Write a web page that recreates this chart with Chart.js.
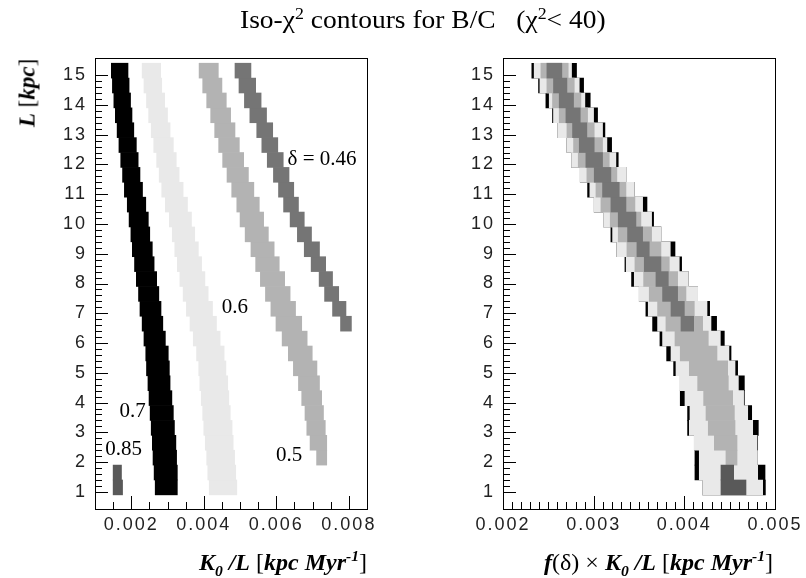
<!DOCTYPE html>
<html>
<head>
<meta charset="utf-8">
<script src="https://cdn.jsdelivr.net/npm/chart.js@4.4.1/dist/chart.umd.min.js"></script>
<style>
  html, body { margin: 0; padding: 0; background: #fff; }
  #page { position: relative; width: 806px; height: 578px; overflow: hidden;
          font-family: "Liberation Serif", "Times New Roman", serif; color: #000; }
  canvas { position: absolute; top: 0; }
  #leftChart { left: 0; }
  #rightChart { left: 400px; }
  .txt { position: absolute; white-space: nowrap; line-height: 1; }
  .txt sub, .txt sup { font-size: 65%; line-height: 0; }
  #title { left: 240px; top: 7px; font-size: 25px; transform: scaleX(1.1); transform-origin: left top; }
  #ytitle { left: 27px; top: 93px; font-size: 23px; transform: translate(-50%, -50%) rotate(-90deg); }
  #xtitleLeft { right: 439px; top: 550px; font-size: 24px; }
  #xtitleRight { right: 33px; top: 550px; font-size: 24px; }
</style>
</head>
<body>
<div id="page">
  <canvas id="leftChart" width="400" height="578"></canvas>
  <canvas id="rightChart" width="406" height="578"></canvas>
  <div class="txt" id="title">Iso-χ<sup>2</sup> contours for B/C&nbsp;&nbsp;&nbsp;(χ<sup>2</sup>&lt; 40)</div>
  <div class="txt" id="ytitle"><b><i>L</i></b> [<b><i>kpc</i></b>]</div>
  <div class="txt" id="xtitleLeft"><b><i>K<sub>0</sub> /L</i></b> [<b><i>kpc Myr<sup>-1</sup></i></b>]</div>
  <div class="txt" id="xtitleRight"><b><i>f</i></b>(δ) × <b><i>K<sub>0</sub> /L</i></b> [<b><i>kpc Myr<sup>-1</sup></i></b>]</div>
</div>
<script>
// L bins (kpc), each bin is 0.5 kpc tall; values below are K0/L in units of 1e-3 kpc/Myr
const yCenters = [1.15, 1.65, 2.15, 2.65, 3.15, 3.65, 4.15, 4.65, 5.15, 5.65, 6.15, 6.65, 7.15, 7.65,
  8.15, 8.65, 9.15, 9.65, 10.15, 10.65, 11.15, 11.65, 12.15, 12.65, 13.15, 13.65, 14.15, 14.65, 15.15];

const deltas = ["0.7", "0.6", "0.5", "0.46", "0.85"];
const bandColors = ["#000000", "#e9e9e9", "#b3b3b3", "#757575", "#595959"];

// left panel: K0/L
const leftBlackLo = [2.66, 2.63, 2.60, 2.58, 2.55, 2.52, 2.49, 2.46, 2.42, 2.40, 2.35, 2.30, 2.24, 2.20, 2.14, 2.09, 2.03, 1.99, 1.94, 1.89, 1.81, 1.76, 1.71, 1.66, 1.61, 1.56, 1.52, 1.48, 1.45];
const leftBlackHi = [3.27, 3.27, 3.25, 3.23, 3.19, 3.16, 3.12, 3.07, 3.05, 3.02, 2.94, 2.87, 2.82, 2.76, 2.70, 2.63, 2.58, 2.51, 2.47, 2.40, 2.31, 2.24, 2.19, 2.14, 2.07, 2.02, 1.98, 1.94, 1.91];
const leftLightLo = [4.15, 4.11, 4.08, 4.04, 4.00, 3.97, 3.93, 3.89, 3.86, 3.80, 3.71, 3.62, 3.52, 3.43, 3.34, 3.27, 3.20, 3.13, 3.05, 2.94, 2.84, 2.77, 2.70, 2.62, 2.55, 2.48, 2.42, 2.35, 2.30];
const leftLightHi = [4.91, 4.88, 4.85, 4.81, 4.78, 4.73, 4.69, 4.66, 4.61, 4.56, 4.45, 4.35, 4.24, 4.12, 4.03, 3.94, 3.85, 3.75, 3.66, 3.55, 3.43, 3.32, 3.24, 3.16, 3.07, 3.00, 2.92, 2.84, 2.81];
const leftGreyLo = [null, null, 7.11, 6.93, 6.84, 6.79, 6.70, 6.61, 6.47, 6.33, 6.16, 5.99, 5.85, 5.70, 5.56, 5.43, 5.30, 5.14, 5.00, 4.91, 4.77, 4.64, 4.52, 4.41, 4.30, 4.19, 4.08, 3.97, 3.87];
const leftGreyHi = [null, null, 7.39, 7.39, 7.35, 7.30, 7.25, 7.19, 7.12, 6.99, 6.85, 6.70, 6.53, 6.38, 6.23, 6.08, 5.94, 5.78, 5.65, 5.53, 5.38, 5.23, 5.10, 4.98, 4.86, 4.74, 4.62, 4.50, 4.40];
const leftDarkLo = [null, null, null, null, null, null, null, null, null, null, null, 7.77, 7.55, 7.33, 7.18, 6.96, 6.77, 6.58, 6.38, 6.20, 6.06, 5.92, 5.75, 5.60, 5.46, 5.27, 5.12, 4.97, 4.86];
const leftDarkHi = [null, null, null, null, null, null, null, null, null, null, null, 8.07, 7.92, 7.72, 7.55, 7.36, 7.19, 6.97, 6.77, 6.61, 6.48, 6.35, 6.19, 6.04, 5.90, 5.73, 5.58, 5.43, 5.30];
const left85Lo = [1.50, 1.50];
const left85Hi = [1.76, 1.73];

// right panel: f(delta) x K0/L
const rightBlackLo = [4.202, 4.117, 4.117, 4.110, 4.036, 4.036, 3.955, 3.955, 3.882, 3.805, 3.731, 3.650, 3.576, 3.503, 3.418, 3.345, 3.256, 3.190, 3.109, 3.006, 2.933, 2.852, 2.756, 2.705, 2.602, 2.546, 2.473, 2.392, 2.318];
const rightBlackHi = [4.894, 4.890, 4.802, 4.809, 4.816, 4.743, 4.662, 4.662, 4.588, 4.515, 4.441, 4.356, 4.279, 4.147, 4.044, 3.970, 3.897, 3.742, 3.661, 3.588, 3.448, 3.356, 3.271, 3.198, 3.124, 3.043, 2.962, 2.889, 2.811];
const rightLightLo = [4.202, 4.165, 4.165, 4.110, 4.055, 4.062, 4.007, 3.955, 3.908, 3.853, 3.760, 3.705, 3.602, 3.503, 3.448, 3.359, 3.256, 3.209, 3.109, 3.006, 2.958, 2.852, 2.756, 2.705, 2.602, 2.557, 2.510, 2.407, 2.344];
const rightLightHi = [4.864, 4.809, 4.802, 4.802, 4.754, 4.699, 4.654, 4.596, 4.559, 4.492, 4.397, 4.294, 4.250, 4.147, 4.044, 3.944, 3.845, 3.742, 3.639, 3.540, 3.448, 3.356, 3.245, 3.146, 3.098, 2.999, 2.903, 2.841, 2.756];
const rightGreyLo = [null, null, 4.459, 4.331, 4.264, 4.239, 4.213, 4.147, 4.055, 3.955, 3.897, 3.797, 3.705, 3.613, 3.551, 3.455, 3.367, 3.271, 3.183, 3.080, 3.025, 2.925, 2.830, 2.778, 2.705, 2.620, 2.546, 2.484, 2.418];
const rightGreyHi = [null, null, 4.581, 4.581, 4.559, 4.552, 4.533, 4.485, 4.478, 4.360, 4.264, 4.202, 4.110, 4.018, 3.926, 3.834, 3.742, 3.639, 3.521, 3.455, 3.356, 3.256, 3.172, 3.098, 3.006, 2.933, 2.859, 2.786, 2.719];
const rightDarkLo = [null, null, null, null, null, null, null, null, null, null, null, 3.963, 3.853, 3.760, 3.687, 3.558, 3.477, 3.374, 3.271, 3.190, 3.098, 3.006, 2.914, 2.841, 2.767, 2.694, 2.620, 2.557, 2.484];
const rightDarkHi = [null, null, null, null, null, null, null, null, null, null, null, 4.103, 4.000, 3.926, 3.823, 3.742, 3.613, 3.540, 3.466, 3.356, 3.282, 3.190, 3.098, 3.006, 2.925, 2.852, 2.778, 2.705, 2.649];
const right85Lo = [4.404, 4.404];
const right85Hi = [4.680, 4.544];

// axes
const yTicks = [1, 2, 3, 4, 5, 6, 7, 8, 9, 10, 11, 12, 13, 14, 15];
const leftXTicks = [0.002, 0.004, 0.006, 0.008];
const rightXTicks = [0.002, 0.003, 0.004, 0.005];

// curve labels in the left panel
const labelTexts = ["δ = 0.46", "0.6", "0.7", "0.85", "0.5"];
const labelX = [7.26, 4.86, 2.04, 1.79, 6.35];
const labelY = [12.16, 7.18, 3.70, 2.41, 2.22];

function cells(lo, hi) {
  const out = [];
  yCenters.forEach((y, i) => {
    if (lo[i] == null) return;
    out.push({ y: y, x: [lo[i] * 1e-3, hi[i] * 1e-3] });
  });
  return out;
}

function bandDatasets(bands) {
  return bands.map((b, k) => ({
    label: "δ = " + deltas[k],
    data: cells(b[0], b[1]),
    backgroundColor: bandColors[k],
    borderWidth: 0,
    barPercentage: 1,
    categoryPercentage: 1,
    grouped: false,
    clip: 0,
    order: bands.length - k, // 0.7 at the bottom, 0.85 on top
  }));
}

// inward ROOT-like ticks plus the box round the plot
const axisFramePlugin = {
  id: "axisFrame",
  beforeDraw(chart) {
    chart.ctx.letterSpacing = "2px";
  },
  afterDatasetsDraw(chart, args, opts) {
    const { ctx, chartArea: { left, right, top, bottom }, scales: { x, y } } = chart;
    const px = (v) => Math.round(v) + 0.5;
    ctx.save();
    ctx.strokeStyle = "#000";
    ctx.lineWidth = 1;
    ctx.beginPath();
    const yStart = Math.ceil(y.min / opts.yMinor - 1e-6);
    for (let i = yStart; i * opts.yMinor <= y.max + 1e-9; i++) {
      const v = i * opts.yMinor;
      const major = Math.abs(v / opts.yMajor - Math.round(v / opts.yMajor)) < 1e-6;
      const p = px(y.getPixelForValue(v));
      ctx.moveTo(left, p);
      ctx.lineTo(left + (major ? 13 : 7), p);
    }
    const xStart = Math.ceil(x.min / opts.xMinor - 1e-6);
    for (let i = xStart; i * opts.xMinor <= x.max + 1e-12; i++) {
      const v = i * opts.xMinor;
      const major = Math.abs(v / opts.xMajor - Math.round(v / opts.xMajor)) < 1e-6;
      const p = px(x.getPixelForValue(v));
      ctx.moveTo(p, bottom);
      ctx.lineTo(p, bottom - (major ? 13 : 7));
    }
    ctx.stroke();
    ctx.strokeRect(px(left), px(top), Math.round(right - left), Math.round(bottom - top));
    ctx.restore();
  },
};

const curveLabelsPlugin = {
  id: "curveLabels",
  afterDatasetsDraw(chart, args, opts) {
    if (!opts.show) return;
    const { ctx, scales: { x, y } } = chart;
    ctx.save();
    ctx.letterSpacing = "0px";
    ctx.fillStyle = "#000";
    ctx.font = '21px "Liberation Serif"';
    ctx.textAlign = "center";
    ctx.textBaseline = "middle";
    labelTexts.forEach((t, i) => {
      ctx.fillText(t, x.getPixelForValue(labelX[i] * 1e-3), y.getPixelForValue(labelY[i]));
    });
    ctx.restore();
  },
};

const tickFont = { family: "Liberation Sans", size: 18 };

function makeChart(id, bands, xMin, xMax, xTicks, xMinor, xMajor, yWidth, padRight, showLabels) {
  return new Chart(document.getElementById(id), {
    type: "bar",
    data: { datasets: bandDatasets(bands) },
    options: {
      indexAxis: "y",
      responsive: false,
      animation: false,
      events: [],
      layout: { padding: { top: 58, right: padRight, bottom: 0, left: 0 } },
      plugins: {
        legend: { display: false },
        tooltip: { enabled: false },
        axisFrame: { xMinor, xMajor, yMinor: 0.2, yMajor: 1 },
        curveLabels: { show: showLabels },
      },
      scales: {
        x: {
          type: "linear",
          min: xMin,
          max: xMax,
          afterFit: (s) => { s.height = 69; },
          afterBuildTicks: (s) => { s.ticks = xTicks.map((v) => ({ value: v })); },
          grid: { display: false, drawTicks: false },
          border: { display: false },
          ticks: { padding: 5, color: "#222", font: tickFont, maxRotation: 0, callback: (v) => v.toFixed(3) },
        },
        y: {
          type: "linear",
          min: 0.93,
          max: 15.07,
          afterFit: (s) => { s.width = yWidth; },
          afterBuildTicks: (s) => { s.ticks = yTicks.map((v) => ({ value: v })); },
          grid: { display: false, drawTicks: false },
          border: { display: false },
          ticks: { padding: 8, color: "#222", font: tickFont, callback: (v) => String(v) },
        },
      },
    },
    plugins: [axisFramePlugin, curveLabelsPlugin],
  });
}

makeChart("leftChart", [
  [leftBlackLo, leftBlackHi],
  [leftLightLo, leftLightHi],
  [leftGreyLo, leftGreyHi],
  [leftDarkLo, leftDarkHi],
  [left85Lo, left85Hi],
], 0.001, 0.0085, leftXTicks, 0.0005, 0.002, 95, 33, true);

makeChart("rightChart", [
  [rightBlackLo, rightBlackHi],
  [rightLightLo, rightLightHi],
  [rightGreyLo, rightGreyHi],
  [rightDarkLo, rightDarkHi],
  [right85Lo, right85Hi],
], 0.002, 0.005, rightXTicks, 0.0001, 0.001, 103, 31, false);
</script>
</body>
</html>
